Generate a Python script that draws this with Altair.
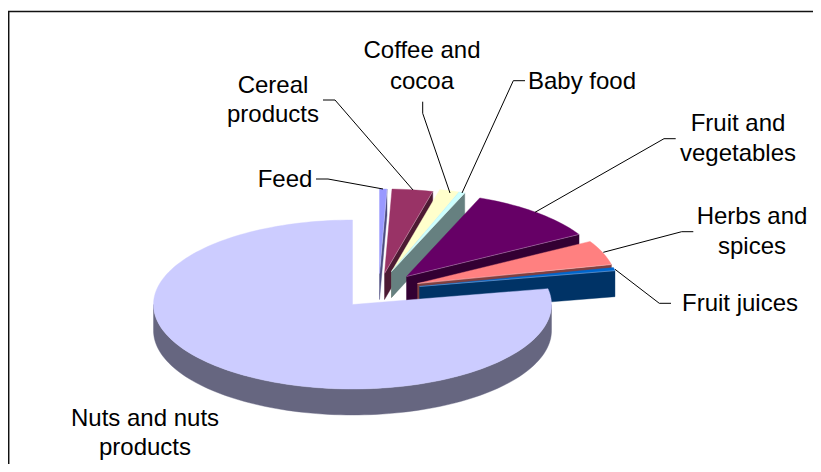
import math
import altair as alt
import pandas as pd

# ---- chart values -------------------------------------------------------
categories = ["Feed", "Cereal products", "Coffee and cocoa", "Baby food",
              "Fruit and vegetables", "Herbs and spices", "Fruit juices",
              "Nuts and nuts products"]
shares = [0.6, 3.3, 1.6, 0.5, 10.7, 4.7, 0.6, 78.0]
top_colors = ["#9999FF", "#993366", "#FFFFCC", "#CCFFFF", "#660066", "#FF8080", "#0066CC", "#CCCCFF"]
wall_colors = ["#4D4D80", "#4D1A33", "#808066", "#668080", "#330033", "#804040", "#003366", "#666680"]
# how far each slice is pulled out of the pie (horizontal, vertical)
pull_x = [27, 32, 39, 39, 54, 65, 67, 0]
pull_y = [-31, -31, -33, -33, -28, -21, -18, 0]

label_lines = [["Feed"], ["Cereal", "products"], ["Coffee and", "cocoa"], ["Baby food"],
               ["Fruit and", "vegetables"], ["Herbs and", "spices"], ["Fruit juices"],
               ["Nuts and nuts", "products"]]
label_x = [285, 273, 422, 582, 738, 752, 740, 145]
label_y = [[186.7], [93.3, 122], [58.3, 89], [89], [130.7, 160.7], [223.5, 254], [310.7], [425.7, 455]]
leaders = [
    [(316, 179), (328, 179), (383, 189)],
    [(323, 100), (335, 100), (413, 190)],
    [(422.7, 101.7), (422.7, 113.3), (450, 193)],
    [(525, 80.7), (513.3, 80.7), (462, 193)],
    [(675.7, 138.7), (664, 138.7), (535, 212.3)],
    [(693.3, 231.7), (681.7, 231.7), (603.3, 252.3)],
    [(671, 303.3), (659.3, 303.3), (615, 269.3)],
]
frame = [(8.7, 464), (8.7, 11.5), (813, 11.5)]

# ---- geometry -----------------------------------------------------------
W, H = 805, 456
CX, CY, RX, RY, DEPTH = 352.5, 304.5, 199.0, 84.5, 26.0
X = alt.X("x:Q", scale=alt.Scale(domain=[8, 8 + W], range=[0, W]), axis=None)
Y = alt.Y("y:Q", scale=alt.Scale(domain=[8, 8 + H], range=[0, H]), axis=None)


def rim(phi, ox, oy):
    return CX + ox + RX * math.sin(phi), CY + oy - RY * math.cos(phi)


def table(points):
    return pd.DataFrame([{"x": p[0], "y": p[1], "o": i} for i, p in enumerate(points)])


def poly(points, fill):
    return alt.Chart(table(points + points[:1])).mark_line(
        fill=fill, stroke=fill, strokeWidth=0.4, interpolate="linear"
    ).encode(x=X, y=Y, order="o:Q")


def arc_points(a0, a1, ox, oy, dy=0):
    n = max(2, int(abs(a1 - a0) / 0.03))
    return [(lambda p: (p[0], p[1] + dy))(rim(a0 + (a1 - a0) * k / n, ox, oy)) for k in range(n + 1)]


layers = []
# frame
layers.append(alt.Chart(table(frame)).mark_line(color="#111111", strokeWidth=1.5).encode(x=X, y=Y, order="o:Q"))

start = 0.0
total = sum(shares)
bounds = []
for s in shares:
    end = start + s / total * 2 * math.pi
    bounds.append((start, end))
    start = end

for i, (a0, a1) in enumerate(bounds):
    ox, oy = pull_x[i], pull_y[i]
    ax, ay = CX + ox, CY + oy
    if i < len(shares) - 1:
        # cut face at the end of the slice
        ex, ey = rim(a1, ox, oy)
        layers.append(poly([(ax, ay), (ex, ey), (ex, ey + DEPTH), (ax, ay + DEPTH)], wall_colors[i]))
    # outer wall (front part only)
    lo, hi = max(a0, math.pi / 2), min(a1, 3 * math.pi / 2)
    if hi > lo:
        layers.append(poly(arc_points(lo, hi, ox, oy) + arc_points(hi, lo, ox, oy, DEPTH), wall_colors[i]))
    # top face
    layers.append(poly([(ax, ay)] + arc_points(a0, a1, ox, oy), top_colors[i]))
    if i < len(shares) - 1:
        # pale highlight along the cut edge
        layers.append(alt.Chart(table([(ax, ay), rim(a1, ox, oy)])).mark_line(
            color="#FFFFFF", opacity=0.35, strokeWidth=0.8).encode(x=X, y=Y, order="o:Q"))

# leader lines
for pts in leaders:
    layers.append(alt.Chart(table(pts)).mark_line(color="#000000", strokeWidth=1).encode(x=X, y=Y, order="o:Q"))

# labels
rows = []
for lines, lx, ys in zip(label_lines, label_x, label_y):
    for t, ly in zip(lines, ys):
        rows.append({"x": lx, "y": ly, "t": t})
layers.append(alt.Chart(pd.DataFrame(rows)).mark_text(
    font="Liberation Sans", fontSize=24, color="#000000", align="center", baseline="alphabetic"
).encode(x=X, y=Y, text="t:N"))

chart = alt.layer(*layers).properties(
    width=W, height=H, padding=0, autosize=alt.AutoSizeParams(type="none"),
    background="white"
).configure_view(stroke=None)

chart.save("out.html", embed_options={"renderer": "svg", "actions": False})
